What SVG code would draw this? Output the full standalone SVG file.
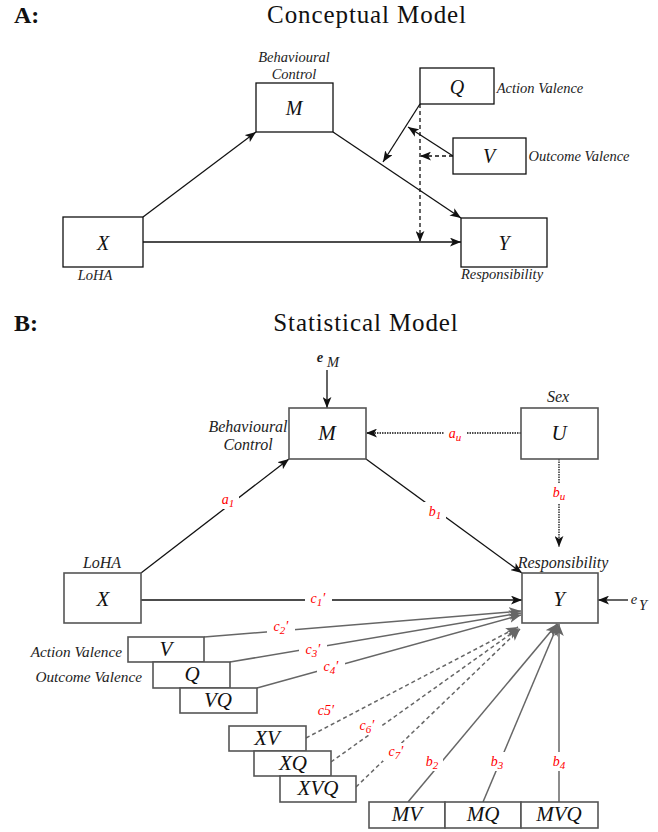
<svg xmlns="http://www.w3.org/2000/svg" width="658" height="832" viewBox="0 0 658 832">
<defs>
<style>
.bg{fill:#fff}
.box{fill:#fff;stroke:#111;stroke-width:1.3}
.boxb{fill:#fff;stroke:#555;stroke-width:1.6}
.var{font-family:"Liberation Serif",serif;font-style:italic;font-size:20px;fill:#111;text-anchor:middle;dominant-baseline:central}
.varb{font-family:"Liberation Serif",serif;font-style:italic;font-size:21px;fill:#111;text-anchor:middle;dominant-baseline:central}
.lab{font-family:"Liberation Serif",serif;font-style:italic;font-size:14.5px;fill:#222;text-anchor:middle;dominant-baseline:central}
.labb{font-family:"Liberation Serif",serif;font-style:italic;font-size:16px;fill:#222;text-anchor:middle;dominant-baseline:central}
.labr{font-family:"Liberation Serif",serif;font-style:italic;font-size:15.3px;fill:#222;text-anchor:end;dominant-baseline:central}
.red{font-family:"Liberation Serif",serif;font-style:italic;font-size:14px;fill:#f00;text-anchor:middle;dominant-baseline:central}
.title{font-family:"Liberation Serif",serif;font-size:25px;letter-spacing:0.9px;fill:#111;text-anchor:middle}
.head{font-family:"Liberation Serif",serif;font-weight:bold;font-size:24px;fill:#111}
.ln{fill:none;stroke:#111;stroke-width:1.3}
.lg{fill:none;stroke:#666;stroke-width:1.5}
.dash{stroke-dasharray:4,3}
.dot{stroke-dasharray:1.5,1}
</style>
<marker id="ah" viewBox="0 0 10 8" refX="10" refY="4" markerWidth="11" markerHeight="9" markerUnits="userSpaceOnUse" orient="auto">
<path d="M0,0 L10,4 L0,8 L2.5,4 z" fill="#111"/>
</marker>
<marker id="ag" viewBox="0 0 10 8" refX="10" refY="4" markerWidth="12" markerHeight="10" markerUnits="userSpaceOnUse" orient="auto">
<path d="M0,0 L10,4 L0,8 L2.5,4 z" fill="#666"/>
</marker>
</defs>
<rect class="bg" x="0" y="0" width="658" height="832"/>

<!-- Part A -->
<g id="titleA">
<text class="head" x="14" y="22.5">A:</text>
<text class="title" x="367" y="22.5">Conceptual Model</text>
</g>
<g id="connectorsA">
<line class="ln" x1="143" y1="217" x2="256" y2="132" marker-end="url(#ah)"/>
<line class="ln" x1="333" y1="132" x2="461" y2="218" marker-end="url(#ah)"/>
<line class="ln" x1="143" y1="242" x2="461" y2="242" marker-end="url(#ah)"/>
<line class="ln" x1="420" y1="104" x2="383" y2="162" marker-end="url(#ah)"/>
<line class="ln" x1="453" y1="156" x2="408" y2="127" marker-end="url(#ah)"/>
<line class="ln dash" x1="453" y1="156" x2="420" y2="156" marker-end="url(#ah)"/>
<line class="ln dash" x1="420" y1="104" x2="420" y2="242" marker-end="url(#ah)"/>
</g>
<g id="A_M">
<rect class="box" x="256" y="83" width="77" height="49"/>
<text class="var" x="294" y="108">M</text>
<text class="lab" x="294" y="57">Behavioural</text>
<text class="lab" x="294" y="74">Control</text>
</g>
<g id="A_X">
<rect class="box" x="63" y="217" width="80" height="50"/>
<text class="var" x="103" y="243">X</text>
<text class="lab" x="95" y="275">LoHA</text>
</g>
<g id="A_Q">
<rect class="box" x="420" y="68" width="74" height="36"/>
<text class="var" x="457" y="87">Q</text>
<text class="lab" x="540" y="88">Action Valence</text>
</g>
<g id="A_V">
<rect class="box" x="453" y="138" width="73" height="36"/>
<text class="var" x="489" y="156">V</text>
<text class="lab" x="579" y="156">Outcome Valence</text>
</g>
<g id="A_Y">
<rect class="box" x="461" y="218" width="86" height="49"/>
<text class="var" x="504" y="243">Y</text>
<text class="lab" x="502" y="274">Responsibility</text>
</g>

<!-- Part B -->
<g id="titleB">
<text class="head" x="14" y="331">B:</text>
<text class="title" x="366" y="331">Statistical Model</text>
</g>
<g id="connectorsB">
<line class="ln" x1="327" y1="370" x2="327" y2="408" marker-end="url(#ah)"/>
<line class="ln" x1="628" y1="600" x2="598" y2="600" marker-end="url(#ah)"/>
<line class="ln dot" x1="521" y1="433" x2="366" y2="433" marker-end="url(#ah)"/>
<line class="ln dot" x1="559" y1="459" x2="559" y2="547" marker-end="url(#ah)"/>
<line class="ln" x1="141" y1="573" x2="289" y2="459" marker-end="url(#ah)"/>
<line class="ln" x1="366" y1="459" x2="522" y2="573" marker-end="url(#ah)"/>
<line class="ln" x1="141" y1="600" x2="522" y2="600" marker-end="url(#ah)"/>
<line class="lg" x1="204" y1="637" x2="521" y2="611" marker-end="url(#ag)"/>
<line class="lg" x1="230" y1="662" x2="521" y2="613" marker-end="url(#ag)"/>
<line class="lg" x1="257" y1="688" x2="521" y2="615" marker-end="url(#ag)"/>
<line class="lg dash" x1="306" y1="738" x2="518" y2="627" marker-end="url(#ag)"/>
<line class="lg dash" x1="331" y1="762" x2="519" y2="628" marker-end="url(#ag)"/>
<line class="lg dash" x1="356" y1="787" x2="520" y2="629" marker-end="url(#ag)"/>
<line class="lg" x1="408" y1="802" x2="557" y2="624" marker-end="url(#ag)"/>
<line class="lg" x1="483" y1="802" x2="558" y2="624" marker-end="url(#ag)"/>
<line class="lg" x1="559" y1="802" x2="559" y2="624" marker-end="url(#ag)"/>
<rect class="bg" x="444" y="425" width="22" height="17"/>
<rect class="bg" x="550" y="483" width="18" height="20"/>
<rect class="bg" x="217" y="490" width="22" height="19"/>
<rect class="bg" x="424" y="502" width="22" height="19"/>
<rect class="bg" x="305" y="591" width="27" height="18"/>
<rect class="bg" x="267" y="618" width="28" height="18"/>
<rect class="bg" x="299" y="641" width="28" height="18"/>
<rect class="bg" x="317" y="658" width="28" height="18"/>
<rect class="bg" x="421" y="752" width="22" height="19"/>
<rect class="bg" x="486" y="752" width="22" height="19"/>
<rect class="bg" x="548" y="752" width="22" height="19"/>
<rect class="bg" x="383" y="743" width="26" height="18"/>
<rect class="bg" x="354" y="717" width="26" height="18"/>
<text class="red" x="455" y="433">a<tspan dy="4" font-size="11">u</tspan></text>
<text class="red" x="559" y="492">b<tspan dy="4" font-size="11">u</tspan></text>
<text class="red" x="228" y="499">a<tspan dy="4" font-size="11">1</tspan></text>
<text class="red" x="435" y="511">b<tspan dy="4" font-size="11">1</tspan></text>
<text class="red" x="318" y="598">c<tspan dy="4" font-size="11">1</tspan><tspan dy="-4">′</tspan></text>
<text class="red" x="281" y="626">c<tspan dy="4" font-size="11">2</tspan><tspan dy="-4">′</tspan></text>
<text class="red" x="313" y="649">c<tspan dy="4" font-size="11">3</tspan><tspan dy="-4">′</tspan></text>
<text class="red" x="331" y="666">c<tspan dy="4" font-size="11">4</tspan><tspan dy="-4">′</tspan></text>
<text class="red" x="326" y="710">c5′</text>
<text class="red" x="367" y="725">c<tspan dy="4" font-size="11">6</tspan><tspan dy="-4">′</tspan></text>
<text class="red" x="396" y="751">c<tspan dy="4" font-size="11">7</tspan><tspan dy="-4">′</tspan></text>
<text class="red" x="432" y="761">b<tspan dy="4" font-size="11">2</tspan></text>
<text class="red" x="497" y="761">b<tspan dy="4" font-size="11">3</tspan></text>
<text class="red" x="559" y="761">b<tspan dy="4" font-size="11">4</tspan></text>
</g>
<g id="B_eM">
<text class="lab" x="320" y="357" font-weight="bold">e</text>
<text class="lab" x="333" y="362" font-size="12">M</text>
</g>
<g id="B_eY">
<text class="lab" x="634" y="599">e</text>
<text class="lab" x="643" y="605" font-size="10">Y</text>
</g>
<g id="B_M">
<rect class="boxb" x="289" y="408" width="77" height="51"/>
<text class="varb" x="327" y="433">M</text>
<text class="labb" x="248" y="426">Behavioural</text>
<text class="labb" x="248" y="444">Control</text>
</g>
<g id="B_U">
<rect class="boxb" x="521" y="408" width="77" height="51"/>
<text class="varb" x="559" y="433">U</text>
<text class="labb" x="558" y="396">Sex</text>
</g>
<g id="B_X">
<rect class="boxb" x="64" y="573" width="77" height="50"/>
<text class="varb" x="103" y="599">X</text>
<text class="labb" x="102" y="562">LoHA</text>
</g>
<g id="B_Y">
<rect class="boxb" x="522" y="573" width="76" height="50"/>
<text class="varb" x="559" y="599">Y</text>
<text class="labb" x="563" y="562">Responsibility</text>
</g>
<g id="B_V">
<rect class="boxb" x="128" y="637" width="76" height="25"/>
<text class="varb" x="166" y="649">V</text>
<text class="labr" x="122" y="651">Action Valence</text>
</g>
<g id="B_Q">
<rect class="boxb" x="153" y="662" width="77" height="26"/>
<text class="varb" x="192" y="674">Q</text>
<text class="labr" x="142" y="676">Outcome Valence</text>
</g>
<g id="B_VQ">
<rect class="boxb" x="180" y="688" width="77" height="25"/>
<text class="varb" x="218" y="700">VQ</text>
</g>
<g id="B_XV">
<rect class="boxb" x="229" y="726" width="77" height="25"/>
<text class="varb" x="267" y="738">XV</text>
</g>
<g id="B_XQ">
<rect class="boxb" x="254" y="751" width="77" height="25"/>
<text class="varb" x="293" y="763">XQ</text>
</g>
<g id="B_XVQ">
<rect class="boxb" x="280" y="776" width="76" height="26"/>
<text class="varb" x="318" y="788">XVQ</text>
</g>
<g id="B_MV">
<rect class="boxb" x="369" y="802" width="76" height="26"/>
<text class="varb" x="407" y="814">MV</text>
</g>
<g id="B_MQ">
<rect class="boxb" x="445" y="802" width="76" height="26"/>
<text class="varb" x="483" y="814">MQ</text>
</g>
<g id="B_MVQ">
<rect class="boxb" x="521" y="802" width="77" height="26"/>
<text class="varb" x="559" y="814">MVQ</text>
</g>
</svg>
